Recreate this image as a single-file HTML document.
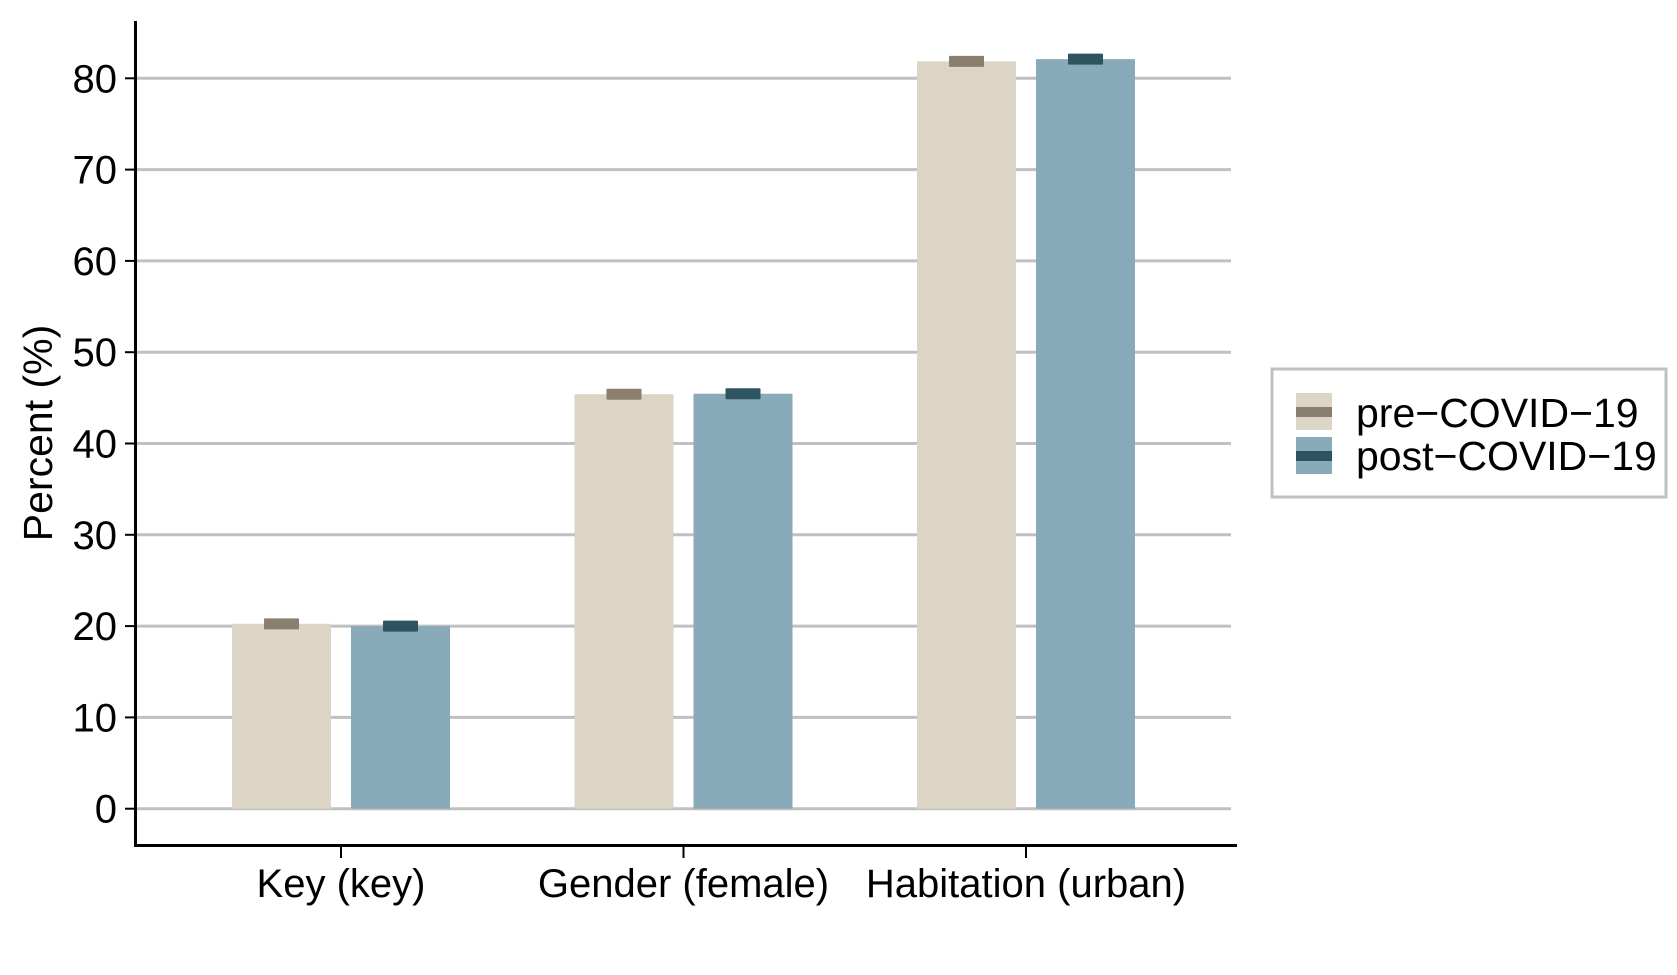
<!DOCTYPE html>
<html><head><meta charset="utf-8"><style>
html,body{margin:0;padding:0;background:#fff;}
svg{display:block;font-family:"Liberation Sans",Arial,sans-serif;}
</style></head><body>
<svg id="chart" width="1677" height="975" viewBox="0 0 1677 975" xmlns="http://www.w3.org/2000/svg">
<g id="grid"></g>
<g id="bars"></g>
<g id="axes"></g>
<text transform="translate(52,433) rotate(-90)" text-anchor="middle" font-size="41" fill="#000">Percent (%)</text>
<g>
<rect x="1272" y="369" width="394" height="128" fill="#fff" stroke="#c0c0c0" stroke-width="3"/>
<g>
<rect x="1296" y="393" width="36" height="37" fill="#dcd4c4"/>
<rect x="1296" y="407" width="36" height="10" fill="#8a7f6f"/>
<text x="1356" y="427" font-size="41" fill="#000">pre−COVID−19</text>
</g>
<g>
<rect x="1296" y="437" width="36" height="37" fill="#88aab9"/>
<rect x="1296" y="451" width="36" height="10" fill="#2e5460"/>
<text x="1356" y="470" font-size="41" fill="#000">post−COVID−19</text>
</g>
</g>
</svg>
<script>
const categories = ["Key (key)", "Gender (female)", "Habitation (urban)"];
const preValues = [20.25, 45.4, 81.85];
const postValues = [20.0, 45.45, 82.1];
const yTicks = [0, 10, 20, 30, 40, 50, 60, 70, 80];

const NS = "http://www.w3.org/2000/svg";
const y0 = 808.7, pxPerUnit = 9.13;
function yScale(v){ return y0 - v * pxPerUnit; }
function xCenter(i){ return 341 + i * 342.5; }
function mk(tag, attrs, parent){
  const e = document.createElementNS(NS, tag);
  for (const k in attrs) e.setAttribute(k, attrs[k]);
  parent.appendChild(e);
  return e;
}
const grid = document.getElementById('grid');
const bars = document.getElementById('bars');
const axes = document.getElementById('axes');

yTicks.forEach(t => {
  const y = yScale(t);
  const g = mk('line', {x1:136, x2:1231, y1:y, y2:y, stroke:'#c0c0c0', 'stroke-width':3}, grid);
  
  
  const tk = mk('line', {x1:125, x2:136, y1:y, y2:y, stroke:'#000', 'stroke-width':2}, axes);
  
  
  const lb = mk('text', {x:117, y:y + 14, 'text-anchor':'end', 'font-size':40, fill:'#000'}, axes);
  lb.textContent = String(t);
  
  
});

const bw = 99, gap = 20, capW = 35, capH = 11;
categories.forEach((c, i) => {
  const cx = xCenter(i);
  [[preValues[i], '#dcd4c4', '#8a7f6f', -1, 'pre'], [postValues[i], '#88aab9', '#2e5460', 1, 'post']].forEach(([v, fill, capFill, side, nm]) => {
    const x = side < 0 ? cx - gap/2 - bw : cx + gap/2;
    const r = mk('rect', {x:x, y:yScale(v), width:bw, height:y0 - yScale(v), fill:fill}, bars);
    
    
    const cap = mk('rect', {x:x + bw/2 - capW/2, y:yScale(v) - capH/2, width:capW, height:capH, fill:capFill, rx:1}, bars);
    
    
  });
  const tk = mk('line', {x1:cx, x2:cx, y1:846, y2:858, stroke:'#000', 'stroke-width':2}, axes);
  
  
  const lb = mk('text', {x:cx, y:897, 'text-anchor':'middle', 'font-size':40, fill:'#000'}, axes);
  lb.textContent = c;
  
  
});

const ya = mk('line', {x1:135.5, x2:135.5, y1:21, y2:847, stroke:'#000', 'stroke-width':3}, axes);


const xa = mk('line', {x1:134, x2:1237, y1:845.5, y2:845.5, stroke:'#000', 'stroke-width':3}, axes);


</script>
</body></html>
